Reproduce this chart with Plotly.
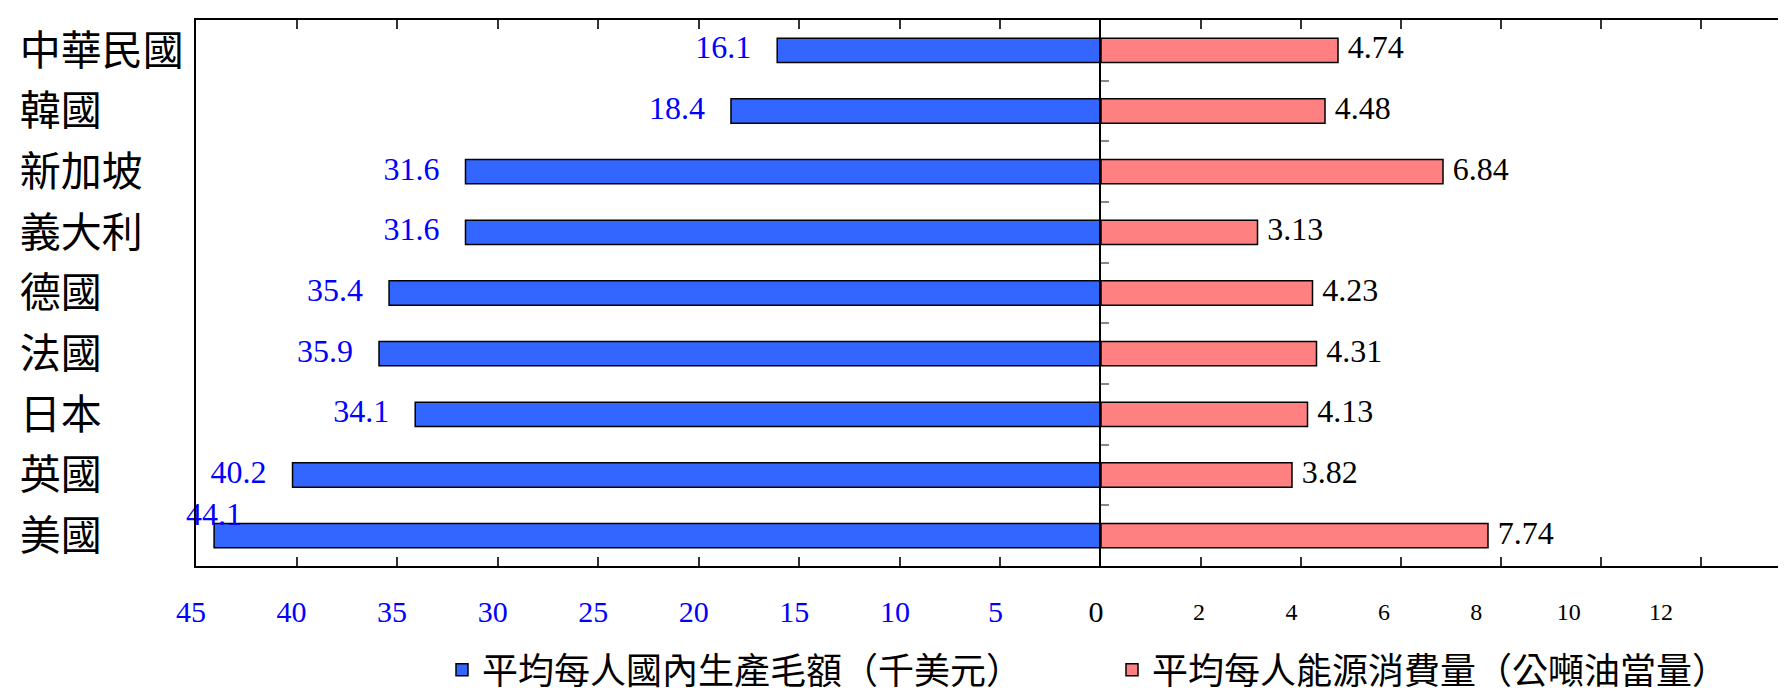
import plotly.graph_objects as go

countries = ["中華民國", "韓國", "新加坡", "義大利", "德國", "法國", "日本", "英國", "美國"]
gdp = [16.1, 18.4, 31.6, 31.6, 35.4, 35.9, 34.1, 40.2, 44.1]
energy = [4.74, 4.48, 6.84, 3.13, 4.23, 4.31, 4.13, 3.82, 7.74]
gdp_ticks = [0, 5, 10, 15, 20, 25, 30, 35, 40, 45]
energy_ticks = [2, 4, 6, 8, 10, 12]
series_names = ["平均每人國內生產毛額（千美元）", "平均每人能源消費量（公噸油當量）"]

SERIF = "Liberation Serif, Times New Roman, serif"
CJK = "Noto Sans CJK TC, Noto Sans CJK SC, sans-serif"
BLUE = "#3366FF"
SALMON = "#FF8080"

# left-align country names by padding with ideographic spaces
maxlen = max(len(c) for c in countries)
country_text = [c + "\u3000" * (maxlen - len(c)) for c in countries]

fig = go.Figure()

fig.add_trace(go.Bar(
    x=gdp, y=countries, orientation="h", xaxis="x", yaxis="y",
    width=0.4, name=series_names[0],
    marker=dict(color=BLUE, line=dict(color="black", width=1.5)),
    hoverinfo="skip",
))
fig.add_trace(go.Bar(
    x=energy, y=countries, orientation="h", xaxis="x2", yaxis="y2",
    width=0.4, name=series_names[1],
    marker=dict(color=SALMON, line=dict(color="black", width=1.5)),
    hoverinfo="skip",
))

# value labels
gdp_pos = ["middle left"] * (len(gdp) - 1) + ["top center"]
gdp_msize = [40] * (len(gdp) - 1) + [2]
fig.add_trace(go.Scatter(
    x=gdp, y=countries, xaxis="x", yaxis="y", mode="markers+text",
    text=[f"{v:.1f}" for v in gdp], textposition=gdp_pos,
    marker=dict(size=gdp_msize, opacity=0),
    textfont=dict(family=SERIF, size=32, color="#0000FF"),
    showlegend=False, hoverinfo="skip", cliponaxis=False,
))
fig.add_trace(go.Scatter(
    x=energy, y=countries, xaxis="x2", yaxis="y2", mode="markers+text",
    text=[f"{v:.2f}" for v in energy], textposition="middle right",
    marker=dict(size=14, opacity=0),
    textfont=dict(family=SERIF, size=32, color="black"),
    showlegend=False, hoverinfo="skip", cliponaxis=False,
))
# invisible carrier so the label-only energy axis is drawn
fig.add_trace(go.Scatter(
    x=energy, y=countries, xaxis="x3", yaxis="y2", mode="markers",
    marker=dict(size=1, opacity=0), showlegend=False, hoverinfo="skip",
))

split = (1093 - 188) / (1770 - 188)

gdp_ticktext = ['<span style="color:black">0</span>'] + [str(t) for t in gdp_ticks[1:]]

fig.update_layout(
    template="none",
    width=1786, height=693,
    margin=dict(l=188, r=16, t=12, b=135),
    paper_bgcolor="white", plot_bgcolor="white",
    showlegend=True,
    legend=dict(
        orientation="h", xref="container", yref="container",
        x=0.243, y=0.045, xanchor="left", yanchor="middle",
        font=dict(family=CJK, size=36, color="black"),
        entrywidth=625, entrywidthmode="pixels",
    ),
    xaxis=dict(
        domain=[0, split], range=[45, 0], anchor="y",
        tickvals=gdp_ticks, ticktext=gdp_ticktext,
        ticks="inside", ticklen=9, tickwidth=1.5, tickcolor="#333333",
        showline=True, linecolor="black", linewidth=2, mirror="ticks",
        showgrid=False, zeroline=False, automargin=False,
        tickfont=dict(family=SERIF, size=30, color="#0000FF"),
        ticklabelstandoff=18, ticklabelshift=5,
    ),
    xaxis2=dict(
        domain=[split, 1], range=[0, 13.54], anchor="y2",
        tickvals=energy_ticks, showticklabels=False,
        ticks="inside", ticklen=9, tickwidth=1.5, tickcolor="#333333",
        showline=True, linecolor="black", linewidth=2, mirror="ticks",
        showgrid=False, zeroline=False, automargin=False,
    ),
    xaxis3=dict(
        overlaying="x2", domain=[split, 1], range=[-0.123, 14.53], anchor="y2",
        side="bottom",
        tickvals=energy_ticks, ticktext=[str(t) for t in energy_ticks],
        ticks="", showline=False, showgrid=False, zeroline=False, automargin=False,
        tickfont=dict(family=SERIF, size=24, color="black"),
        ticklabelstandoff=29,
    ),
    yaxis=dict(
        domain=[0, 1], anchor="x", type="category",
        categoryarray=countries, range=[8.5, -0.5],
        tickvals=countries, ticktext=country_text,
        ticks="", showline=True, linecolor="black", linewidth=2,
        showgrid=False, zeroline=False, automargin=False,
        tickfont=dict(family=CJK, size=41, color="black"),
        ticklabelstandoff=2,
    ),
    yaxis2=dict(
        domain=[0, 1], anchor="x2", type="category",
        categoryarray=countries, range=[8.5, -0.5], matches="y",
        side="left", ticks="inside", tickson="boundaries", ticklen=8,
        tickwidth=1.5, tickcolor="#888888", showticklabels=False,
        showline=True, linecolor="black", linewidth=2, mirror=True,
        showgrid=False, zeroline=False, automargin=False,
    ),
)

fig.write_html("out.html")
